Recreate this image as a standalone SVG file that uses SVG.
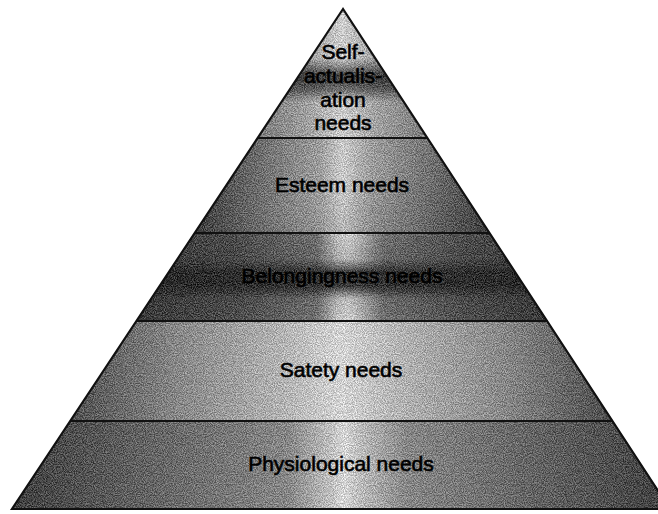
<svg xmlns="http://www.w3.org/2000/svg" width="658" height="514" viewBox="0 0 658 514">
<style>
.lbl{font-family:"Liberation Sans",Arial,sans-serif;font-size:21px;fill:#000;text-anchor:middle;stroke:#000;stroke-width:0.6}
.grainy{filter:url(#grain)}
</style>
<defs>
<linearGradient id="gTop" gradientUnits="userSpaceOnUse" x1="257" y1="0" x2="428" y2="0">
<stop offset="0" stop-color="#777"/><stop offset="0.3" stop-color="#b0b0b0"/><stop offset="0.5" stop-color="#f2f2f2"/><stop offset="0.7" stop-color="#b0b0b0"/><stop offset="1" stop-color="#777"/>
</linearGradient>
<linearGradient id="gEst" gradientUnits="userSpaceOnUse" x1="195" y1="0" x2="490" y2="0">
<stop offset="0" stop-color="#1e1e1e"/><stop offset="0.22" stop-color="#666"/><stop offset="0.42" stop-color="#aaa"/><stop offset="0.5" stop-color="#eee"/><stop offset="0.6" stop-color="#aaa"/><stop offset="0.82" stop-color="#666"/><stop offset="1" stop-color="#2a2a2a"/>
</linearGradient>
<linearGradient id="gBel" gradientUnits="userSpaceOnUse" x1="136" y1="0" x2="548" y2="0">
<stop offset="0" stop-color="#1a1a1a"/><stop offset="0.25" stop-color="#3a3a3a"/><stop offset="0.44" stop-color="#707070"/><stop offset="0.49" stop-color="#eee"/><stop offset="0.515" stop-color="#fff"/><stop offset="0.54" stop-color="#ddd"/><stop offset="0.6" stop-color="#707070"/><stop offset="0.8" stop-color="#3a3a3a"/><stop offset="1" stop-color="#1a1a1a"/>
</linearGradient>
<linearGradient id="gSaf" gradientUnits="userSpaceOnUse" x1="70" y1="0" x2="613" y2="0">
<stop offset="0" stop-color="#3a3a3a"/><stop offset="0.2" stop-color="#8c8c8c"/><stop offset="0.4" stop-color="#cfcfcf"/><stop offset="0.5" stop-color="#fcfcfc"/><stop offset="0.6" stop-color="#cfcfcf"/><stop offset="0.8" stop-color="#8c8c8c"/><stop offset="1" stop-color="#333"/>
</linearGradient>
<linearGradient id="gPhy" gradientUnits="userSpaceOnUse" x1="12" y1="0" x2="670" y2="0">
<stop offset="0" stop-color="#222"/><stop offset="0.2" stop-color="#555"/><stop offset="0.42" stop-color="#8a8a8a"/><stop offset="0.485" stop-color="#ddd"/><stop offset="0.505" stop-color="#fff"/><stop offset="0.525" stop-color="#ddd"/><stop offset="0.6" stop-color="#8a8a8a"/><stop offset="0.8" stop-color="#555"/><stop offset="1" stop-color="#222"/>
</linearGradient>
<linearGradient id="vTop" x1="0" y1="0" x2="0" y2="1">
<stop offset="0" stop-color="#000" stop-opacity="0"/><stop offset="0.38" stop-color="#000" stop-opacity="0"/><stop offset="0.52" stop-color="#000" stop-opacity="0.85"/><stop offset="0.62" stop-color="#000" stop-opacity="0.6"/><stop offset="0.72" stop-color="#000" stop-opacity="0"/><stop offset="1" stop-color="#000" stop-opacity="0"/>
</linearGradient>
<linearGradient id="vBel" x1="0" y1="0" x2="0" y2="1">
<stop offset="0" stop-color="#000" stop-opacity="0.05"/><stop offset="0.3" stop-color="#000" stop-opacity="0.2"/><stop offset="0.45" stop-color="#000" stop-opacity="0.9"/><stop offset="0.6" stop-color="#000" stop-opacity="0.9"/><stop offset="0.75" stop-color="#000" stop-opacity="0.15"/><stop offset="1" stop-color="#000" stop-opacity="0.05"/>
</linearGradient>
<linearGradient id="vEst" x1="0" y1="0" x2="1" y2="1">
<stop offset="0" stop-color="#000" stop-opacity="0"/><stop offset="0.5" stop-color="#000" stop-opacity="0"/><stop offset="1" stop-color="#000" stop-opacity="0.25"/>
</linearGradient>
<filter id="grain" x="0" y="0" width="100%" height="100%" color-interpolation-filters="sRGB">
<feTurbulence type="fractalNoise" baseFrequency="0.9" numOctaves="2" seed="7" result="n"/>
<feColorMatrix in="n" type="matrix" values="2.2 0 0 0 -0.6  2.2 0 0 0 -0.6  2.2 0 0 0 -0.6  0 0 0 0 0.32" result="g"/>
<feComposite in="g" in2="SourceAlpha" operator="in" result="gc"/>
<feMerge><feMergeNode in="SourceGraphic"/><feMergeNode in="gc"/></feMerge>
</filter>
</defs>
<rect width="658" height="514" fill="#fff"/>
<g id="self-actualisation">
<g class="grainy">
<polygon points="343,9 257.6,138 427.5,138" fill="url(#gTop)"/>
<polygon points="343,9 257.6,138 427.5,138" fill="url(#vTop)"/>
</g>
<text class="lbl" x="343" y="59" font-size="20">Self-</text>
<text class="lbl" x="343" y="83" font-size="20">actualis-</text>
<text class="lbl" x="343" y="107" font-size="20">ation</text>
<text class="lbl" x="343" y="130" font-size="20">needs</text>
</g>
<g id="esteem">
<g class="grainy">
<polygon points="257.6,138 427.5,138 489.7,233 194.7,233" fill="url(#gEst)"/>
<polygon points="257.6,138 427.5,138 489.7,233 194.7,233" fill="url(#vEst)"/>
</g>
<text class="lbl" x="342" y="192">Esteem needs</text>
</g>
<g id="belongingness">
<g class="grainy">
<polygon points="194.7,233 489.7,233 547.4,321 136.5,321" fill="url(#gBel)"/>
<polygon points="194.7,233 489.7,233 547.4,321 136.5,321" fill="url(#vBel)"/>
</g>
<text class="lbl" x="342" y="283">Belongingness needs</text>
</g>
<g id="safety">
<g class="grainy">
<polygon points="136.5,321 547.4,321 612.9,421 70.3,421" fill="url(#gSaf)"/>
</g>
<text class="lbl" x="341" y="377">Satety needs</text>
</g>
<g id="physiological">
<g class="grainy">
<polygon points="70.3,421 612.9,421 670.5,509 12,509" fill="url(#gPhy)"/>
</g>
<text class="lbl" x="341" y="471">Physiological needs</text>
</g>
<g id="outlines" fill="none" stroke="#111" stroke-width="2.2">
<polygon points="343,9 12,509 670,509"/>
<line x1="257.6" y1="138" x2="427.5" y2="138"/>
<line x1="194.7" y1="233" x2="489.7" y2="233"/>
<line x1="136.5" y1="321" x2="547.4" y2="321"/>
<line x1="70.3" y1="421" x2="612.9" y2="421"/>
</g>
</svg>
